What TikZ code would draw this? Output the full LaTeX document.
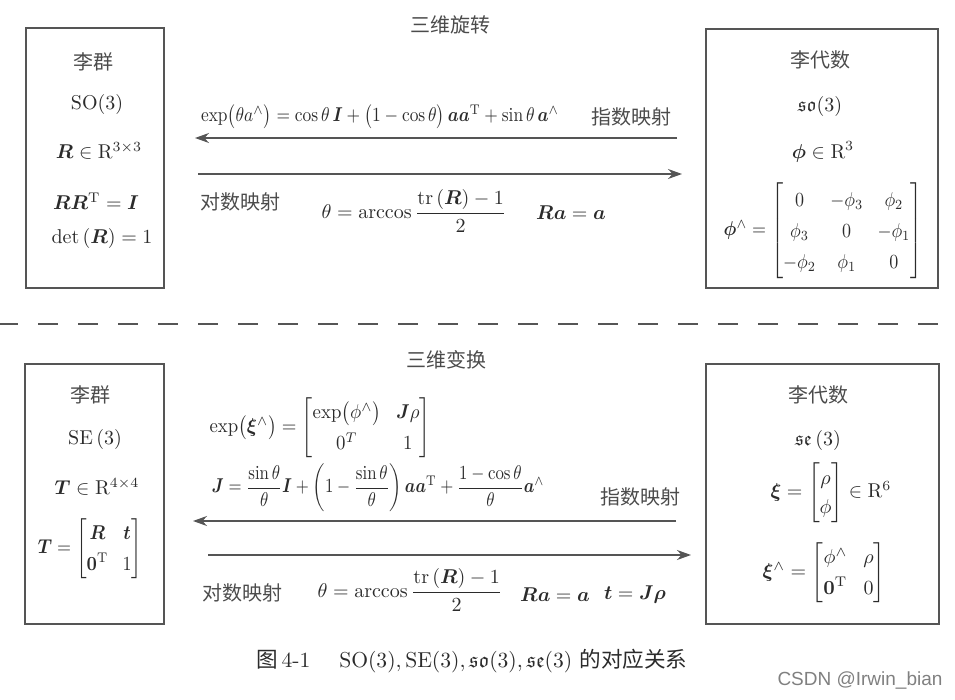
\documentclass[tikz,border=0pt]{standalone}
\usepackage{amsmath,amssymb,bm}
\usepackage{graphicx}
\usepackage{fontspec}
\newfontfamily\cjk{Noto Sans CJK SC}
\newfontfamily\wmfont{Liberation Sans}
\usetikzlibrary{arrows.meta,positioning}
\definecolor{ink}{HTML}{2B2B2B}
\definecolor{frame}{HTML}{555555}
\renewcommand{\arraystretch}{1.3}
\setlength{\arraycolsep}{4pt}

\begin{document}
\begin{tikzpicture}[
	x=0.5pt, y=-0.5pt,
	every node/.style={text=ink, inner sep=1pt},
	box/.style={rectangle, draw=frame, line width=0.75pt},
	cn/.style={font=\cjk\fontsize{10}{12}\selectfont, text=ink!85},
	line/.style={draw=frame, line width=0.75pt, -{Stealth[length=7pt,width=5pt]}},
	sep/.style={draw=frame, line width=1pt, dash pattern=on 10pt off 10pt, dash phase=1pt}
]
\useasboundingbox (0,0) rectangle (955,700);

% upper half: rotations
\node[cn] (rotTitle) at (450,25) {三维旋转};
\node[box, minimum width=69pt, minimum height=130pt] (soGroup) at (95,158) {};
\node[box, minimum width=116pt, minimum height=129.5pt] (soAlg) at (822,158.5) {};

\node[cn] (soGroupName) at (94,62) {李群};
\node (soName) at (97,105) {$\mathrm{SO}(3)$};
\node (soSet) at (99,151) {$\bm{R}\in\mathrm{R}^{3\times 3}$};
\node (soOrth) at (96,201) {$\bm{R}\bm{R}^{\mathrm{T}}=\bm{I}$};
\node (soDet) at (102,239) {$\det\left(\bm{R}\right)=1$};

\node[cn] (soAlgName) at (820,60) {李代数};
\node (soAlgSym) at (820,107) {$\mathfrak{so}(3)$};
\node (soAlgSet) at (823,152) {$\bm{\phi}\in\mathrm{R}^{3}$};
\node[inner sep=0pt] (soHat) at (823,231) {\scalebox{0.9}[1]{$\bm{\phi}^{\wedge}=\begin{bmatrix} 0 & -\phi_3 & \phi_2\\ \phi_3 & 0 & -\phi_1\\ -\phi_2 & \phi_1 & 0\end{bmatrix}$}};

\node (soExp) at (380,117) {\scalebox{0.87}[1]{$\exp\bigl(\theta a^{\wedge}\bigr)=\cos\theta\,\bm{I}+\bigl(1-\cos\theta\bigr)\,\bm{a}\bm{a}^{\mathrm{T}}+\sin\theta\,\bm{a}^{\wedge}$}};
\node[cn] (soExpLbl) at (631,117) {指数映射};
\node[cn] (soLogLbl) at (240,202) {对数映射};
\node (soLog) at (414,211) {$\theta=\arccos\dfrac{\mathrm{tr}\left(\bm{R}\right)-1}{2}$};
\node (soAxis) at (571,213) {$\bm{R}\bm{a}=\bm{a}$};

\coordinate (soExpR) at (677,138);
\coordinate (soExpL) at (195,138);
\coordinate (soLogL) at (198,174);
\coordinate (soLogR) at (682,174);
\draw[line] (soExpR) -- (soExpL);
\draw[line] (soLogL) -- (soLogR);

% separator
\coordinate (sepL) at (0,324);
\coordinate (sepR) at (955,324);
\draw[sep] (sepL) -- (sepR);

% lower half: rigid transforms
\node[cn] (trfTitle) at (446,360) {三维变换};
\node[box, minimum width=69.5pt, minimum height=130pt] (seGroup) at (94.5,494) {};
\node[box, minimum width=116.5pt, minimum height=130pt] (seAlg) at (822.5,494) {};

\node[cn] (seGroupName) at (90,395) {李群};
\node (seName) at (95,440) {$\mathrm{SE}\left(3\right)$};
\node (seSet) at (97,487) {$\bm{T}\in\mathrm{R}^{4\times 4}$};
\node (seMat) at (90,549) {\scalebox{0.9}[1]{$\bm{T}=\begin{bmatrix}\bm{R} & \bm{t}\\ \bm{0}^{\mathrm{T}} & 1\end{bmatrix}$}};

\node[cn] (seAlgName) at (818,395) {李代数};
\node (seAlgSym) at (818,441) {$\mathfrak{se}\left(3\right)$};
\node[inner sep=0pt] (seAlgSet) at (831,493) {\renewcommand{\arraystretch}{1.2}$\bm{\xi}=\begin{bmatrix}\rho\\ \phi\end{bmatrix}\in\mathrm{R}^{6}$};
\node (seHat) at (824,573) {$\bm{\xi}^{\wedge}=\begin{bmatrix}\phi^{\wedge} & \rho\\ \bm{0}^{\mathrm{T}} & 0\end{bmatrix}$};

\node (seExp) at (320,428) {\scalebox{0.94}[1]{$\exp\bigl(\bm{\xi}^{\wedge}\bigr)=\begin{bmatrix}\exp\bigl(\phi^{\wedge}\bigr) & \bm{J}\rho\\ 0^{T} & 1\end{bmatrix}$}};
\node (seJac) at (378,488) {\scalebox{0.84}[1]{$\bm{J}=\dfrac{\sin\theta}{\theta}\bm{I}+\left(1-\dfrac{\sin\theta}{\theta}\right)\bm{a}\bm{a}^{\mathrm{T}}+\dfrac{1-\cos\theta}{\theta}\bm{a}^{\wedge}$}};
\node[cn] (seExpLbl) at (640,497) {指数映射};
\node[cn] (seLogLbl) at (242,593) {对数映射};
\node (seLog) at (410,590) {$\theta=\arccos\dfrac{\mathrm{tr}\left(\bm{R}\right)-1}{2}$};
\node (seAxis) at (555,595) {$\bm{R}\bm{a}=\bm{a}$};
\node (seTrans) at (635,595) {$\bm{t}=\bm{J}\bm{\rho}$};

\coordinate (seExpR) at (676,521);
\coordinate (seExpL) at (193,521);
\coordinate (seLogL) at (208,555);
\coordinate (seLogR) at (691,555);
\draw[line] (seExpR) -- (seExpL);
\draw[line] (seLogL) -- (seLogR);

% caption and watermark
\node (caption) at (472,661) {\scalebox{1.08}{{\cjk 图}\,4-1\quad\ $\mathrm{SO}(3),\mathrm{SE}(3),\mathfrak{so}(3),\mathfrak{se}(3)$\ {\cjk 的对应关系}}};
\node[font=\wmfont\fontsize{9.5}{11}\selectfont, text=gray] (mark) at (860,681) {CSDN @Irwin\_bian};
\end{tikzpicture}
\end{document}
